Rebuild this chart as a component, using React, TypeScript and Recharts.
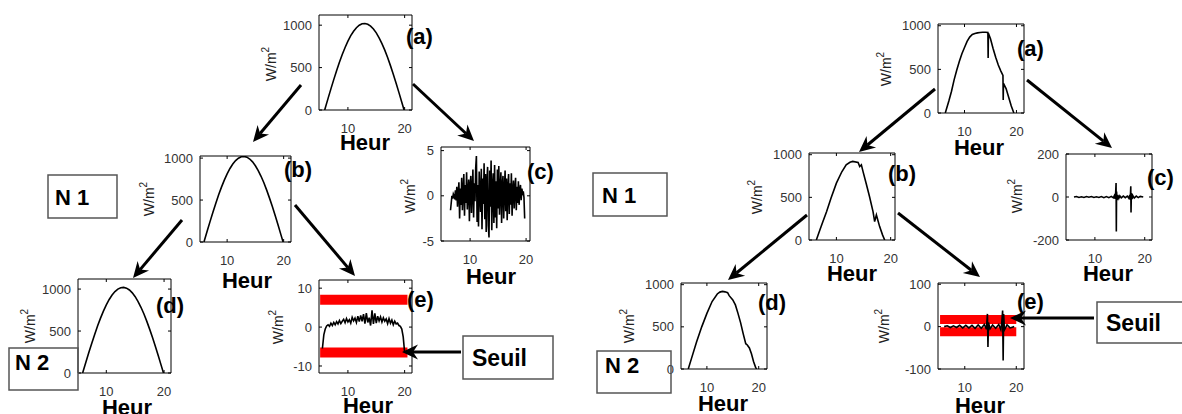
import React from 'react';
import { LineChart, Line, XAxis, YAxis, ReferenceArea, ReferenceLine } from 'recharts';

const FONT = '"Liberation Sans", Arial, Helvetica, sans-serif';

// ---- valeurs ----

// approximations lisses (gauche) : (a), (b), (d)
const HOURS_SMOOTH = [5.9, 6.5, 7, 7.5, 8, 8.5, 9, 9.5, 10, 10.5, 11, 11.5, 12, 12.5, 13, 13.5, 14, 14.5, 15, 15.5, 16, 16.5, 17, 17.5, 18, 18.5, 19, 19.5, 19.9];
const IRR_SMOOTH = [0, 137, 249, 358, 463, 562, 654, 737, 812, 876, 929, 970, 999, 1016, 1020, 1011, 989, 955, 909, 851, 783, 706, 618, 523, 422, 315, 205, 91, 0];

// detail N1 (gauche, c) : echantillons reguliers
const C1_START = 6.5;
const C1_STEP = 0.125;
const C1_DETAIL = [
  -1.6, -0.8, 0.0, -0.3, 0.2, 0.0, -0.4, 0.6,
  -0.5, 1.0, -1.2, 0.3, 1.5, -2.5, 0.8, -1.0,
  2.0, -1.6, 0.5, 2.4, -2.2, 1.2, -0.8, 2.6,
  -1.5, 0.4, 1.8, -2.8, 1.0, 2.2, -1.9, 0.6,
  2.9, -2.4, 1.4, -0.6, 3.1, 4.4, -2.9, 1.2,
  -3.4, 2.7, 0.3, -1.8, 3.0, -3.7, 1.9, -0.9,
  3.6, -2.6, 2.4, -4.0, 1.5, 3.2, -3.3, -4.6,
  2.8, -1.2, 3.9, -3.8, 0.9, 2.5, -3.0, 3.4,
  -2.4, 1.6, -3.6, 2.9, -1.4, 3.3, -2.1, 0.7,
  2.6, -3.0, 1.2, 2.2, -2.5, 0.5, 2.8, -1.7,
  1.9, -2.7, 0.9, 2.4, -2.0, 1.4, -1.0, 2.5,
  -2.2, 0.6, 1.7, -1.4, 0.8, 2.0, -1.6, 1.0,
  -0.8, 1.6, -1.0, 0.6, 1.2, -0.5, 0.8, 0.3,
  0.5, -0.2, -2.5,
];

// detail N2 (gauche, e)
const E1_START = 5.5;
const E1_STEP = 0.25;
const E1_DETAIL = [
  -5.5, -2.0, -0.5, 0.3, 0.6, 0.2, 1.0, 0.4, 1.2, 0.6,
  1.4, 0.8, 1.7, 0.9, 1.5, 2.0, 1.1, 2.2, 1.3, 1.9,
  1.0, 2.5, 1.6, 2.3, 1.2, 2.8, 1.4, 3.0, 1.5, 3.3,
  0.9, 3.6, 1.2, 2.4, 0.4, 4.3, 0.8, 3.5, 1.0, 2.8,
  1.6, 2.6, 1.3, 2.4, 1.5, 2.1, 0.9, 2.2, 1.0, 1.8,
  0.6, 1.5, 0.8, 1.0, 0.4, 0.2, -0.5, -2.5, -6.5,
];
const E1_SEUIL = [7, -6.5];
const E1_SEUIL_SPAN = [5.1, 20.5];

// signal avec perturbations (droite)
const HOURS_A2 = [6.3, 7, 7.5, 8, 8.5, 9, 9.5, 10, 10.5, 11, 11.5, 12, 12.5, 13, 13.5, 14, 14.5, 14.55, 14.6, 15, 15.5, 16, 16.5, 17, 17.4, 17.45, 17.5, 18, 18.5, 19, 19.5];
const IRR_A2 = [0, 140, 250, 380, 490, 590, 680, 750, 820, 870, 900, 912, 918, 922, 925, 926, 922, 630, 915, 850, 740, 640, 550, 480, 430, 150, 340, 280, 180, 80, 0];

const HOURS_B2 = [6.3, 7, 7.5, 8.2, 9, 10, 11, 11.8, 12.5, 13, 14, 14.3, 14.6, 14.9, 15.5, 16.1, 16.75, 17.05, 17.37, 17.97, 18.5, 18.9];
const IRR_B2 = [0, 125, 215, 335, 490, 667, 800, 882, 912, 921, 910, 862, 882, 804, 660, 510, 333, 215, 294, 157, 60, 0];

const HOURS_D2 = [6.4, 7, 8, 9, 10, 11, 12, 12.5, 13, 13.5, 14, 14.3, 15, 15.5, 16, 16.5, 17, 17.5, 17.8, 18.2, 18.6, 19, 19.4, 19.6];
const IRR_D2 = [0, 120, 320, 500, 660, 800, 890, 912, 920, 915, 905, 870, 820, 760, 660, 550, 420, 300, 285, 250, 180, 90, 20, 0];

const HOURS_C2 = [5.8, 6.3, 6.8, 7.3, 7.8, 8.3, 8.8, 9.3, 9.8, 10.3, 10.8, 11.3, 11.8, 12.3, 12.8, 13.3, 13.7, 13.9, 14.05, 14.15, 14.25, 14.3, 14.35, 14.45, 14.6, 14.8, 15.0, 15.3, 15.7, 16.1, 16.5, 16.8, 17.0, 17.1, 17.2, 17.25, 17.32, 17.45, 17.6, 17.9, 18.3, 18.7, 19.1, 19.7];
const DET_C2 = [0, 2, -2, 1, -2, 2, -1, 2, -2, 1, -2, 2, -3, 2, -3, 3, -4, 6, -9, 12, 65, -160, 25, -14, 9, -6, 5, -4, 4, -3, 4, -6, 9, -12, 50, -72, 18, -10, 7, -5, 4, -3, 3, 0];

const HOURS_E2 = [6.0, 6.6, 7.2, 7.8, 8.4, 9.0, 9.6, 10.2, 10.8, 11.4, 12.0, 12.6, 13.2, 13.8, 14.2, 14.4, 14.5, 14.6, 14.9, 15.4, 16.0, 16.6, 17.0, 17.2, 17.35, 17.45, 17.55, 17.7, 18.2, 18.8, 19.6];
const DET_E2 = [0, 2, -2, 2, -2, 3, -3, 3, -3, 3, -4, 4, -4, 5, -6, 30, -48, 10, -5, 4, -4, 5, -7, 12, 38, -80, 30, -8, 4, -3, 0];
const E2_SEUIL = [17, -12];
const E2_SEUIL_SPAN = [5.2, 20];

const X_TICKS = [10, 20];
const Y_TICKS_IRR = [0, 500, 1000];

type Pt = { h: number; v: number };

const pairs = (hs: number[], vs: number[]): Pt[] => hs.map((h, i) => ({ h, v: vs[i] }));
const sampled = (start: number, step: number, vs: number[]): Pt[] =>
  vs.map((v, i) => ({ h: start + i * step, v }));
const bandsOf = (levels: number[], span: number[]): Pt[][] =>
  levels.map((v) => [{ h: span[0], v }, { h: span[1], v }]);

interface PanelCfg {
  box: { x: number; y: number; w: number; h: number };
  xDomain: [number, number];
  yDomain: [number, number];
  yTicks: number[];
  series: Pt[];
  bands: Pt[][];
  bandWidth?: number;
  letter: string;
  letterPos: [number, number];
  heur: [number, number];
  ylab: [number, number];
}

const PANELS: PanelCfg[] = [
  { box: { x: 319, y: 15, w: 93, h: 95 }, xDomain: [4.9, 21.3], yDomain: [0, 1120], yTicks: Y_TICKS_IRR,
    series: pairs(HOURS_SMOOTH, IRR_SMOOTH), bands: [], letter: '(a)', letterPos: [406, 36], heur: [365, 142], ylab: [271, 64] },
  { box: { x: 200, y: 156, w: 91, h: 86 }, xDomain: [5.2, 21.3], yDomain: [0, 1025], yTicks: Y_TICKS_IRR,
    series: pairs(HOURS_SMOOTH, IRR_SMOOTH), bands: [], letter: '(b)', letterPos: [284, 169], heur: [247, 280], ylab: [149, 199] },
  { box: { x: 441, y: 147, w: 89, h: 94 }, xDomain: [4.8, 20.7], yDomain: [-5, 5.4], yTicks: [-5, 0, 5],
    series: sampled(C1_START, C1_STEP, C1_DETAIL), bands: [], letter: '(c)', letterPos: [527, 171], heur: [491, 276], ylab: [410, 196] },
  { box: { x: 78, y: 279, w: 93, h: 94 }, xDomain: [5.1, 21.2], yDomain: [0, 1120], yTicks: Y_TICKS_IRR,
    series: pairs(HOURS_SMOOTH, IRR_SMOOTH), bands: [], letter: '(d)', letterPos: [156, 305], heur: [127, 407], ylab: [30, 326] },
  { box: { x: 319, y: 280, w: 93, h: 93 }, xDomain: [4.9, 21.3], yDomain: [-11.8, 12.1], yTicks: [-10, 0, 10],
    series: sampled(E1_START, E1_STEP, E1_DETAIL), bands: bandsOf(E1_SEUIL, E1_SEUIL_SPAN), bandWidth: 10,
    letter: '(e)', letterPos: [407, 299], heur: [368, 405], ylab: [278, 327] },
  { box: { x: 938, y: 24, w: 86, h: 89 }, xDomain: [4.9, 21.45], yDomain: [0, 1020], yTicks: Y_TICKS_IRR,
    series: pairs(HOURS_A2, IRR_A2), bands: [], letter: '(a)', letterPos: [1017, 48], heur: [979, 147], ylab: [886, 69] },
  { box: { x: 809, y: 153, w: 86, h: 87 }, xDomain: [4.95, 20.8], yDomain: [0, 1020], yTicks: Y_TICKS_IRR,
    series: pairs(HOURS_B2, IRR_B2), bands: [], letter: '(b)', letterPos: [888, 173], heur: [852, 273], ylab: [757, 197] },
  { box: { x: 1066, y: 154, w: 86, h: 86 }, xDomain: [4.2, 21.46], yDomain: [-200, 200], yTicks: [-200, 0, 200],
    series: pairs(HOURS_C2, DET_C2), bands: [], letter: '(c)', letterPos: [1147, 177], heur: [1108, 273], ylab: [1017, 196] },
  { box: { x: 681, y: 283, w: 86, h: 86 }, xDomain: [5, 21.6], yDomain: [0, 1020], yTicks: Y_TICKS_IRR,
    series: pairs(HOURS_D2, IRR_D2), bands: [], letter: '(d)', letterPos: [758, 302], heur: [723, 403], ylab: [629, 326] },
  { box: { x: 938, y: 283, w: 86, h: 86 }, xDomain: [4.8, 21.5], yDomain: [-100, 103], yTicks: [-100, 0, 100],
    series: pairs(HOURS_E2, DET_E2), bands: bandsOf(E2_SEUIL, E2_SEUIL_SPAN), bandWidth: 9,
    letter: '(e)', letterPos: [1017, 301], heur: [980, 405], ylab: [884, 326] },
];

const ARROWS = [
  [301, 85, 253, 142], [413, 84, 474, 141], [182, 220, 133, 278], [295, 205, 355, 276], [461, 352, 402, 352],
  [935, 89, 859, 152], [1027, 80, 1112, 148], [807, 215, 728, 280], [898, 213, 980, 277], [1094, 318, 1010, 318],
];

const BOXES = [
  { x: 48, y: 175, w: 69, h: 43, text: 'N 1', tx: 55, ty: 197, size: 22 },
  { x: 9, y: 348, w: 69, h: 42, text: 'N 2', tx: 15, ty: 362, size: 22 },
  { x: 463, y: 336, w: 90, h: 43, text: 'Seuil', tx: 472, ty: 358, size: 23 },
  { x: 593, y: 173, w: 74, h: 43, text: 'N 1', tx: 602, ty: 195, size: 22 },
  { x: 597, y: 351, w: 74, h: 42, text: 'N 2', tx: 605, ty: 365, size: 22 },
  { x: 1097, y: 302, w: 100, h: 41, text: 'Seuil', tx: 1106, ty: 323, size: 23 },
];

const ML = 44;
const MT = 10;
const MR = 10;
const XH = 34;
const TICK_PX = 3;

function Panel({ cfg }: { cfg: PanelCfg }) {
  const { box, xDomain, yDomain, yTicks } = cfg;
  const dx = ((xDomain[1] - xDomain[0]) / box.w) * TICK_PX;
  const dy = ((yDomain[1] - yDomain[0]) / box.h) * TICK_PX;
  const tickSegs: { x: number; y: number }[][] = [];
  X_TICKS.forEach((t) => {
    tickSegs.push([{ x: t, y: yDomain[0] }, { x: t, y: yDomain[0] + dy }]);
    tickSegs.push([{ x: t, y: yDomain[1] }, { x: t, y: yDomain[1] - dy }]);
  });
  yTicks.forEach((t) => {
    tickSegs.push([{ x: xDomain[0], y: t }, { x: xDomain[0] + dx, y: t }]);
    tickSegs.push([{ x: xDomain[1], y: t }, { x: xDomain[1] - dx, y: t }]);
  });
  return (
    <div style={{ position: 'absolute', left: box.x - ML, top: box.y - MT }}>
      <LineChart
        width={box.w + ML + MR}
        height={box.h + MT + XH}
        margin={{ top: MT, right: MR, left: 0, bottom: 0 }}
      >
        <XAxis
          type="number"
          dataKey="h"
          domain={xDomain}
          ticks={X_TICKS}
          allowDataOverflow
          axisLine={false}
          tickLine={false}
          tickSize={0}
          tickMargin={14}
          height={XH}
          tick={{ fill: '#333', fontSize: 13 }}
        />
        <YAxis
          type="number"
          dataKey="v"
          domain={yDomain}
          ticks={yTicks}
          allowDataOverflow
          axisLine={false}
          tickLine={false}
          tickSize={0}
          tickMargin={7}
          width={ML}
          tick={{ fill: '#333', fontSize: 13 }}
        />
        <ReferenceArea
          x1={xDomain[0]}
          x2={xDomain[1]}
          y1={yDomain[0]}
          y2={yDomain[1]}
          fill="none"
          fillOpacity={0}
          stroke="#000"
          strokeWidth={1}
          ifOverflow="visible"
        />
        {tickSegs.map((s, i) => (
          <ReferenceLine key={`t${i}`} segment={s} stroke="#000" strokeWidth={1} ifOverflow="visible" />
        ))}
        {cfg.bands.map((b, i) => (
          <Line
            key={`b${i}`}
            data={b}
            dataKey="v"
            type="linear"
            stroke="#ff0000"
            strokeWidth={cfg.bandWidth ?? 10}
            dot={false}
            isAnimationActive={false}
          />
        ))}
        <Line
          data={cfg.series}
          dataKey="v"
          type="linear"
          stroke="#000"
          strokeWidth={1.6}
          dot={false}
          isAnimationActive={false}
        />
      </LineChart>
    </div>
  );
}

function Arrow({ a }: { a: number[] }) {
  const [x1, y1, x2, y2] = a;
  const L = Math.hypot(x2 - x1, y2 - y1);
  const ux = (x2 - x1) / L;
  const uy = (y2 - y1) / L;
  const px = -uy;
  const py = ux;
  const HL = 16;
  const HW = 7.5;
  const NOTCH = 5;
  const bx = x2 - ux * HL;
  const by = y2 - uy * HL;
  const nx = x2 - ux * (HL - NOTCH);
  const ny = y2 - uy * (HL - NOTCH);
  const pts = [
    [x2, y2],
    [bx + px * HW, by + py * HW],
    [nx, ny],
    [bx - px * HW, by - py * HW],
  ]
    .map((p) => p.join(','))
    .join(' ');
  return (
    <g>
      <line x1={x1} y1={y1} x2={nx} y2={ny} stroke="#000" strokeWidth={3} />
      <polygon points={pts} fill="#000" />
    </g>
  );
}

export default function App() {
  return (
    <div
      style={{
        position: 'absolute',
        left: 0,
        top: 0,
        width: 1182,
        height: 414,
        overflow: 'hidden',
        background: '#fff',
        fontFamily: FONT,
      }}
    >
      {PANELS.map((p, i) => (
        <Panel key={i} cfg={p} />
      ))}
      <svg
        width={1182}
        height={414}
        style={{ position: 'absolute', left: 0, top: 0, pointerEvents: 'none', fontFamily: FONT }}
      >
        {PANELS.map((p, i) => (
          <g key={i}>
            <text
              x={p.ylab[0]}
              y={p.ylab[1]}
              transform={`rotate(-90 ${p.ylab[0]} ${p.ylab[1]})`}
              textAnchor="middle"
              dominantBaseline="central"
              fontSize={14}
              fill="#222"
            >
              W/m
              <tspan dy={-6} fontSize={10}>
                2
              </tspan>
            </text>
            <text
              x={p.heur[0]}
              y={p.heur[1]}
              textAnchor="middle"
              dominantBaseline="central"
              fontSize={22}
              fontWeight="bold"
              fill="#000"
            >
              Heur
            </text>
            <text
              x={p.letterPos[0]}
              y={p.letterPos[1]}
              dominantBaseline="central"
              fontSize={22}
              fontWeight="bold"
              fill="#000"
            >
              {p.letter}
            </text>
          </g>
        ))}
        {ARROWS.map((a, i) => (
          <Arrow key={i} a={a} />
        ))}
        {BOXES.map((b, i) => (
          <g key={i}>
            <rect x={b.x} y={b.y} width={b.w} height={b.h} fill="none" stroke="#555" strokeWidth={1.5} />
            <text x={b.tx} y={b.ty} dominantBaseline="central" fontSize={b.size} fontWeight="bold" fill="#000">
              {b.text}
            </text>
          </g>
        ))}
      </svg>
    </div>
  );
}
